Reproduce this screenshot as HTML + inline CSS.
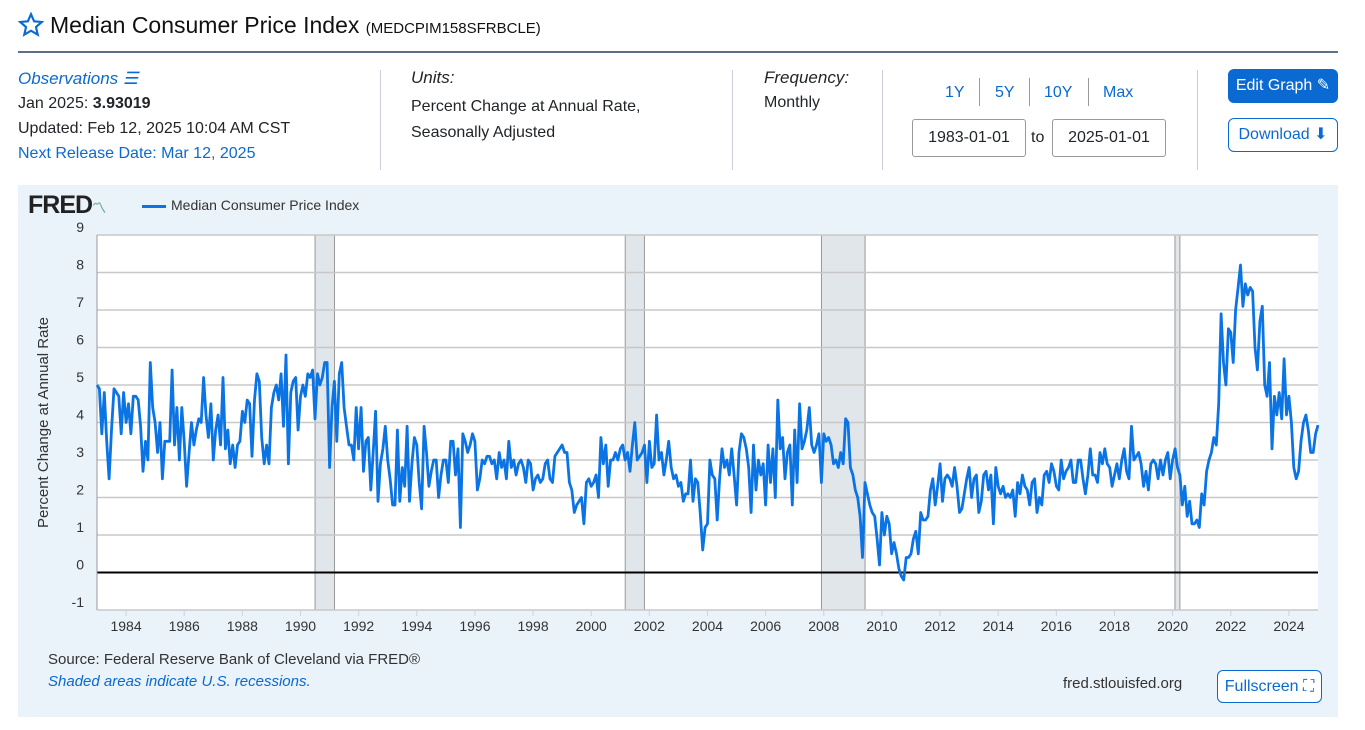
<!DOCTYPE html>
<html><head><meta charset="utf-8">
<style>
body{margin:0;width:1365px;height:730px;background:#fff;font-family:"Liberation Sans",Arial,sans-serif;color:#212529;position:relative;overflow:hidden}
.a{position:absolute}
.blue{color:#0a6ad1}
.btn{position:absolute;border:1px solid #0a6ad1;border-radius:6px;color:#0a6ad1;font-size:16px;text-align:center;box-sizing:border-box}
.inp{position:absolute;border:1px solid #999;border-radius:3px;font-size:16px;box-sizing:border-box;text-align:center;line-height:36px;width:114px;height:38px}
.sep{position:absolute;width:1px;background:#ccd;top:70px;height:100px}
</style></head><body>
<svg class="a" style="left:18px;top:12px" width="26" height="26" viewBox="0 0 24 24"><path d="M12 2l2.9 6.6 7.1.6-5.4 4.7 1.6 7L12 17.3 5.8 20.9l1.6-7L2 9.2l7.1-.6z" fill="none" stroke="#0a6ad1" stroke-width="2"/></svg>
<div class="a" style="left:50px;top:12px;font-size:23px;color:#111">Median Consumer Price Index <span style="font-size:15px">(MEDCPIM158SFRBCLE)</span></div>
<div class="a" style="left:18px;top:51px;width:1320px;height:2px;background:#5d7088"></div>

<div class="a" style="left:18px;top:69px;font-size:17px;font-style:italic" ><span class="blue">Observations ☰</span></div>
<div class="a" style="left:18px;top:95px;font-size:16px">Jan 2025: <b>3.93019</b></div>
<div class="a" style="left:18px;top:120px;font-size:16px">Updated: Feb 12, 2025 10:04 AM CST</div>
<div class="a blue" style="left:18px;top:145px;font-size:16px">Next Release Date: Mar 12, 2025</div>
<div class="sep" style="left:380px"></div>
<div class="a" style="left:411px;top:68px;font-size:17px;font-style:italic">Units:</div>
<div class="a" style="left:411px;top:94px;font-size:16px;line-height:26px">Percent Change at Annual Rate,<br>Seasonally Adjusted</div>
<div class="sep" style="left:732px"></div>
<div class="a" style="left:764px;top:68px;font-size:17px;font-style:italic">Frequency:</div>
<div class="a" style="left:764px;top:94px;font-size:16px">Monthly</div>
<div class="sep" style="left:882px"></div>
<div class="a blue" style="left:945px;top:84px;font-size:16px">1Y</div>
<div class="a" style="left:979px;top:78px;width:1px;height:28px;background:#999"></div>
<div class="a blue" style="left:995px;top:84px;font-size:16px">5Y</div>
<div class="a" style="left:1029px;top:78px;width:1px;height:28px;background:#999"></div>
<div class="a blue" style="left:1044px;top:84px;font-size:16px">10Y</div>
<div class="a" style="left:1088px;top:78px;width:1px;height:28px;background:#999"></div>
<div class="a blue" style="left:1103px;top:84px;font-size:16px">Max</div>
<div class="inp" style="left:912px;top:119px">1983-01-01</div>
<div class="a" style="left:1031px;top:129px;font-size:16px">to</div>
<div class="inp" style="left:1052px;top:119px">2025-01-01</div>
<div class="sep" style="left:1197px"></div>
<div class="btn" style="left:1228px;top:69px;width:110px;height:34px;line-height:32px;background:#0a6ad1;color:#fff">Edit Graph ✎</div>
<div class="btn" style="left:1228px;top:118px;width:110px;height:34px;line-height:32px">Download ⬇</div>

<div class="a" style="left:18px;top:185px;width:1320px;height:532px;background:#eaf2fa"></div>
<div class="a" style="left:28px;top:191px;font-size:25px;font-weight:bold;color:#222;letter-spacing:-1px">FRED<span style="font-size:14px;color:#7a9">〽</span></div>
<div class="a" style="left:142px;top:205px;width:24px;height:3px;background:#0b74e5"></div>
<div class="a" style="left:171px;top:197px;font-size:14px;color:#333">Median Consumer Price Index</div>
<svg class="a" id="chart" style="left:0;top:0" width="1365" height="730"></svg>
<div class="a" style="left:48px;top:651px;font-size:15px;color:#333">Source: Federal Reserve Bank of Cleveland via FRED®</div>
<div class="a blue" style="left:48px;top:673px;font-size:15px;font-style:italic">Shaded areas indicate U.S. recessions.</div>
<div class="a" style="left:1063px;top:675px;font-size:15px;color:#333">fred.stlouisfed.org</div>
<div class="btn" style="left:1217px;top:670px;width:105px;height:33px;line-height:31px;background:#fff">Fullscreen ⛶</div>
<script>
const startYear = 1983;
const yTicks = [-1,0,1,2,3,4,5,6,7,8,9];
const xTicks = [1984,1986,1988,1990,1992,1994,1996,1998,2000,2002,2004,2006,2008,2010,2012,2014,2016,2018,2020,2022,2024];
const recessions = [[1990.5,1991.17],[2001.17,2001.83],[2007.92,2009.42],[2020.08,2020.25]];
const values = [
5.0,4.9,3.7,4.8,3.5,2.5,3.8,4.9,4.8,4.7,3.7,4.8,
4.0,4.5,3.7,4.7,4.7,4.6,3.9,2.7,3.5,3.0,5.6,4.4,
4.0,3.2,4.0,2.5,3.5,3.5,3.5,5.4,3.4,4.4,3.0,4.4,
3.5,2.3,3.2,4.0,3.4,3.8,4.1,4.0,5.2,4.2,3.6,4.5,
3.0,3.8,4.2,3.4,5.2,3.3,3.8,2.9,3.4,2.8,3.4,3.5,
4.3,4.0,4.6,4.5,3.1,4.6,5.3,5.1,3.6,2.9,3.4,2.9,
4.4,4.8,5.0,4.6,5.3,3.9,5.8,2.9,4.8,5.1,5.2,3.8,
4.7,5.0,4.7,5.3,5.2,5.4,4.1,5.3,5.0,5.2,5.6,5.6,
2.8,4.4,5.1,3.5,5.3,5.6,4.4,3.9,3.4,3.4,3.0,4.4,
3.3,4.4,2.7,3.5,3.6,2.2,3.2,4.3,1.9,2.9,3.3,3.9,
3.0,2.5,1.8,1.8,3.8,1.9,2.8,2.3,3.9,1.9,2.9,3.6,
3.4,2.4,1.7,3.9,3.2,2.3,2.7,3.0,3.0,2.0,2.6,3.0,
3.0,2.4,3.5,3.5,2.6,3.3,1.2,3.7,3.5,3.2,3.4,3.7,
3.5,2.2,2.5,3.0,2.9,3.1,3.1,2.9,3.0,2.5,3.2,2.8,
3.0,2.5,3.5,2.8,3.0,2.6,2.9,3.0,2.8,2.4,3.0,2.9,
2.2,2.5,2.6,2.4,2.5,2.9,3.0,2.5,2.4,3.1,3.2,3.3,
3.4,3.2,3.2,2.4,2.2,1.6,1.8,1.9,2.0,1.3,2.4,2.5,
2.3,2.4,2.6,2.0,3.6,2.9,3.4,2.3,3.0,3.0,3.2,3.0,
3.3,3.4,3.0,3.2,2.7,3.4,4.0,3.0,3.1,3.2,3.4,2.4,
3.5,2.8,2.9,4.2,3.0,3.2,2.6,3.0,3.5,2.8,2.5,2.6,
2.3,2.4,1.9,2.1,2.1,3.0,1.9,2.5,2.4,1.6,0.6,1.2,
1.3,3.0,2.6,2.5,1.4,2.5,3.3,2.8,3.0,2.6,3.3,2.6,
1.8,3.2,3.7,3.6,3.3,2.8,1.6,3.4,2.2,3.0,2.6,2.9,
1.8,3.4,2.4,3.3,2.0,4.6,3.3,3.6,2.5,3.2,3.4,1.8,
3.8,2.4,4.5,3.3,3.5,3.8,4.4,3.4,3.2,3.4,3.7,2.4,
3.7,3.5,3.6,3.4,2.9,3.0,2.8,3.2,2.9,4.1,4.0,2.8,
2.6,2.2,2.0,1.5,0.4,2.4,2.1,1.8,1.6,1.5,0.9,0.2,
1.6,1.0,1.5,1.3,0.5,0.8,0.5,0.1,-0.1,-0.2,0.4,0.4,
0.5,0.9,1.1,0.5,1.6,1.4,1.4,1.5,2.2,2.5,1.8,2.3,
2.9,1.9,2.5,2.6,2.5,2.3,2.8,2.3,1.6,1.7,2.1,2.5,
2.8,2.0,2.5,2.6,1.6,1.9,2.6,2.7,2.2,2.6,1.3,2.8,
2.3,2.1,2.3,2.0,2.1,2.0,2.2,1.5,2.4,2.1,2.6,2.3,
2.2,1.8,2.4,2.5,1.6,2.0,1.8,2.6,2.7,2.4,2.9,2.7,
2.3,2.2,3.0,2.5,2.7,2.8,3.0,2.4,2.4,3.0,3.0,2.5,
2.1,2.6,3.3,2.6,2.6,2.4,3.2,2.9,3.3,2.9,2.8,2.3,
2.6,2.9,2.5,3.0,3.3,2.7,2.5,3.9,3.0,3.1,3.2,2.9,
2.3,2.7,2.2,2.9,3.0,2.9,2.5,3.0,2.6,3.0,3.2,2.5,
3.0,3.3,2.8,2.6,1.8,2.3,1.5,1.9,1.3,1.3,1.4,1.2,
2.1,1.8,2.7,3.0,3.2,3.6,3.4,4.5,6.9,5.6,5.0,6.5,
6.4,5.6,7.0,7.6,8.2,7.1,7.7,7.4,7.6,7.5,6.0,5.4,
6.7,7.1,5.0,4.7,5.6,3.3,4.7,4.2,4.8,4.1,5.7,4.2,
4.7,4.0,2.8,2.5,2.7,3.5,4.0,4.2,3.8,3.2,3.2,3.7,
3.93];
const NS='http://www.w3.org/2000/svg';
const svg=document.getElementById('chart');
const L=97,R=1318,T=235,B=610;
const x=t=>L+(t-startYear)/42*(R-L);
const y=v=>B-(v+1)/10*(B-T);
function mk(tag,attrs){const e=document.createElementNS(NS,tag);for(const k in attrs)e.setAttribute(k,attrs[k]);svg.appendChild(e);return e;}
const bg=mk('rect',{x:L,y:T,width:R-L,height:B-T,fill:'#fff'});


recessions.forEach(r=>{
  const e=mk('rect',{x:x(r[0]),y:T,width:x(r[1])-x(r[0]),height:B-T,fill:'#e1e6eb',stroke:'#999','stroke-width':1});
  
  
});
yTicks.forEach(v=>{
  const g=mk('line',{x1:L,x2:R,y1:y(v),y2:y(v),stroke:v===0?'#000':'#c8c8c8','stroke-width':v===0?2:1.5});
  
  
  const t=mk('text',{x:84,y:y(v)-3,'text-anchor':'end','font-size':14,fill:'#333','font-family':'Liberation Sans, sans-serif'});
  t.textContent=v;
  
  
});
xTicks.forEach(yr=>{
  const g=mk('line',{x1:x(yr),x2:x(yr),y1:B,y2:B+6,stroke:'#c8d4e0','stroke-width':1});
  
  
  const t=mk('text',{x:x(yr),y:B+21,'text-anchor':'middle','font-size':14,fill:'#333','font-family':'Liberation Sans, sans-serif'});
  t.textContent=yr;
  
  
});
const ax=mk('line',{x1:L,x2:L,y1:T,y2:B,stroke:'#999','stroke-width':1});


const yt=mk('text',{x:48,y:(T+B)/2,'text-anchor':'middle','font-size':15,fill:'#333',transform:`rotate(-90 48 ${(T+B)/2})`,'font-family':'Liberation Sans, sans-serif'});
yt.textContent='Percent Change at Annual Rate';


const pts=values.map((v,i)=>x(startYear+i/12).toFixed(1)+','+y(v).toFixed(1)).join(' ');
const line=mk('polyline',{points:pts,fill:'none',stroke:'#0b74e5','stroke-width':2.8,'stroke-linejoin':'round'});


</script>
</body></html>
